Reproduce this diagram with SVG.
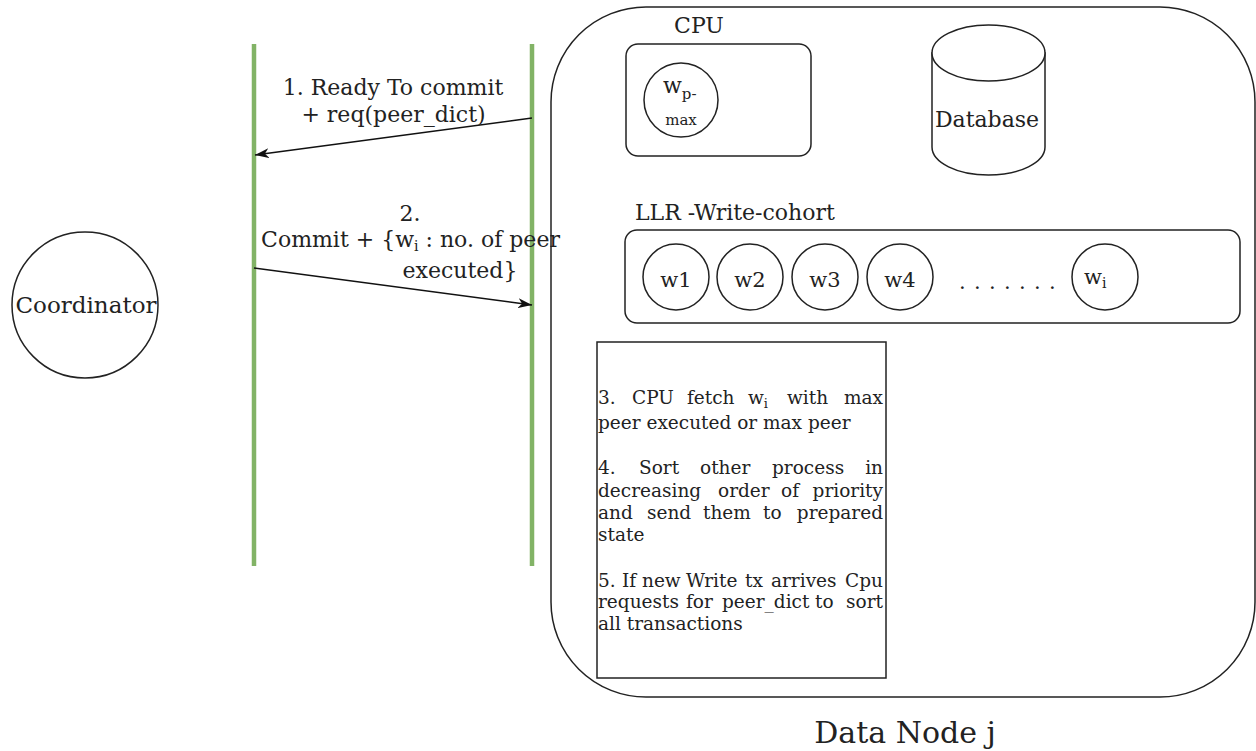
<svg xmlns="http://www.w3.org/2000/svg" width="1256" height="751" viewBox="0 0 1256 751">
  <style>
    text { font-family: "DejaVu Serif", "Liberation Serif", serif; fill: #222; }
    .shape { fill: #fff; stroke: #222; stroke-width: 1.5; }
    .lifeline { stroke: #82b366; stroke-width: 4.5; }
    .msg { stroke: #111; stroke-width: 1.5; fill: none; marker-end: url(#arrow); }
    .lbl { font-size: 22px; text-anchor: middle; }
    .note { font-size: 18.5px; }
    .end { text-anchor: end; }
    .wlbl { font-size: 21px; text-anchor: middle; }
  </style>
  <defs>
    <marker id="arrow" viewBox="0 0 14 10" refX="14" refY="5" markerWidth="14" markerHeight="10" markerUnits="userSpaceOnUse" orient="auto">
      <path d="M0,0 L14,5 L0,10 L4,5 Z" fill="#111"/>
    </marker>
  </defs>
  <rect width="1256" height="751" fill="#fff"/>

  <g id="coordinator">
    <circle class="shape" cx="85" cy="305" r="73"/>
    <text x="86" y="313" font-size="23" text-anchor="middle">Coordinator</text>
  </g>

  <g id="lifelines">
    <line class="lifeline" x1="254" y1="44" x2="254" y2="566"/>
    <line class="lifeline" x1="532" y1="44" x2="532" y2="566"/>
  </g>

  <g id="data-node">
    <rect class="shape" x="551" y="7" width="704" height="690" rx="95" ry="95"/>
    <text x="905" y="743" font-size="30" text-anchor="middle">Data Node j</text>
  </g>

  <g id="cpu">
    <text x="699" y="33" font-size="22" text-anchor="middle">CPU</text>
    <rect class="shape" x="626" y="44" width="185" height="112" rx="12" ry="12"/>
    <circle class="shape" cx="681" cy="100" r="37"/>
    <text x="663" y="93" font-size="22">w<tspan font-size="15" dy="6">p-</tspan></text>
    <text x="681" y="125" font-size="15" text-anchor="middle">max</text>
  </g>

  <g id="database">
    <path class="shape" d="M932,53 L932,147 A56.5,28 0 0 0 1045,147 L1045,53 Z"/>
    <ellipse class="shape" cx="988.5" cy="53" rx="56.5" ry="28"/>
    <text x="987" y="127" font-size="22" text-anchor="middle">Database</text>
  </g>

  <g id="write-cohort">
    <text x="635" y="220" font-size="22">LLR -Write-cohort</text>
    <rect class="shape" x="625" y="230" width="615" height="93" rx="12" ry="12"/>
    <circle class="shape" cx="676" cy="277" r="33"/>
    <text class="wlbl" x="676" y="287">w1</text>
    <circle class="shape" cx="750" cy="277" r="33"/>
    <text class="wlbl" x="750" y="287">w2</text>
    <circle class="shape" cx="825" cy="277" r="33"/>
    <text class="wlbl" x="825" y="287">w3</text>
    <circle class="shape" cx="900" cy="277" r="33"/>
    <text class="wlbl" x="900" y="287">w4</text>
    <text x="959 974 989 1004 1019 1034 1049" y="289" font-size="21">.......</text>
    <circle class="shape" cx="1105" cy="277" r="33"/>
    <text x="1084" y="284" font-size="21">w<tspan font-size="14" dy="4">i</tspan></text>
  </g>

  <!-- justified paragraph: words placed per line, last word flush right -->
  <g id="steps">
    <rect class="shape" x="597" y="342" width="289" height="336"/>
    <text class="note" y="404"><tspan x="598">3.</tspan><tspan x="632">CPU</tspan><tspan x="687">fetch</tspan><tspan x="748">w</tspan><tspan font-size="13" dy="4">i</tspan><tspan x="787" dy="-4">with</tspan></text>
    <text class="note end" x="883" y="404">max</text>
    <text class="note" x="598" y="429">peer executed or max peer</text>
    <text class="note" y="474"><tspan x="598">4.</tspan><tspan x="639">Sort</tspan><tspan x="700">other</tspan><tspan x="772">process</tspan></text>
    <text class="note end" x="883" y="474">in</text>
    <text class="note" y="497"><tspan x="598">decreasing</tspan><tspan x="718">order</tspan><tspan x="781">of</tspan></text>
    <text class="note end" x="883" y="497">priority</text>
    <text class="note" y="519"><tspan x="598">and</tspan><tspan x="647">send</tspan><tspan x="703">them</tspan><tspan x="763">to</tspan></text>
    <text class="note end" x="883" y="519">prepared</text>
    <text class="note" x="598" y="541">state</text>
    <text class="note" y="587"><tspan x="598">5.</tspan><tspan x="622">If</tspan><tspan x="642">new</tspan><tspan x="686">Write</tspan><tspan x="745">tx</tspan><tspan x="771">arrives</tspan></text>
    <text class="note end" x="883" y="587">Cpu</text>
    <text class="note" y="608"><tspan x="598">requests</tspan><tspan x="686">for</tspan><tspan x="722">peer_dict</tspan><tspan x="815">to</tspan></text>
    <text class="note end" x="883" y="608">sort</text>
    <text class="note" x="598" y="630">all transactions</text>
  </g>

  <g id="connectors">
    <line class="msg" x1="532" y1="118" x2="255" y2="155"/>
    <text class="lbl" x="393" y="95">1. Ready To commit</text>
    <text class="lbl" x="393.5" y="122">+ req(peer_dict)</text>
    <line class="msg" x1="254" y1="268" x2="532" y2="305"/>
    <text class="lbl" x="410" y="221">2.</text>
    <text class="lbl" x="410.5" y="247">Commit + {w<tspan font-size="14" dy="4">i</tspan><tspan dy="-4"> : no. of peer</tspan></text>
    <text class="lbl" x="460" y="278">executed}</text>
  </g>
</svg>
